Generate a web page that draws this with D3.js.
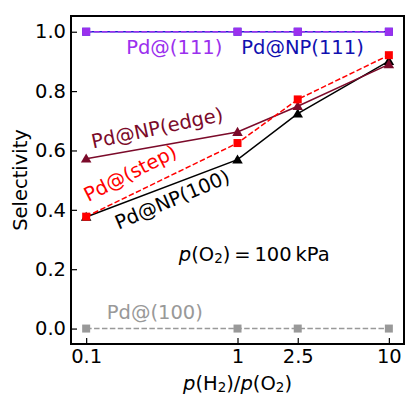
<!DOCTYPE html>
<html>
<head>
<meta charset="utf-8">
<script src="https://cdn.jsdelivr.net/npm/d3@7"></script>
<style>
    body { margin: 0; background: #fff; }
    text { font-family: "DejaVu Sans", sans-serif; }
</style>
</head>
<body>
<div id="chart_parent"></div>
<script>
const ratios = [0.1, 1, 2.5, 10];
const xTickLabels = ['0.1', '1', '2.5', '10'];
const yTicks = [0, 0.2, 0.4, 0.6, 0.8, 1.0];

const np111 = [1.0, 1.0, 1.0, 1.0];
const pd111 = [1.0, 1.0, 1.0, 1.0];
const np100 = [0.376, 0.569, 0.724, 0.901];
const npEdge = [0.572, 0.662, 0.749, 0.89];
const pdStep = [0.377, 0.625, 0.772, 0.921];
const pd100 = [0, 0, 0, 0];

const chartConfig = {
    margins: { top: 16, right: 1, bottom: 51, left: 71 },
    outerWidth: 405,
    outerHeight: 395,
    fontSize: 19.5,
    subSize: 13.5,
};

const series = [
    { name: 'Pd@NP(111)', values: np111, color: '#1f1fd0', dash: null, marker: 'square' },
    { name: 'Pd@(100)', values: pd100, color: '#999999', dash: '5.5,2.4', marker: 'square' },
    { name: 'Pd@NP(100)', values: np100, color: '#000000', dash: null, marker: 'triangle' },
    { name: 'Pd@NP(edge)', values: npEdge, color: '#7b0a2a', dash: null, marker: 'triangle' },
    { name: 'Pd@(step)', values: pdStep, color: '#ff0000', dash: '5.5,2.4', marker: 'square' },
    { name: 'Pd@(111)', values: pd111, color: '#9b30ee', dash: '5.5,2.4', marker: 'square' },
];

// label anchors in data units (centre of the text)
const labels = [
    { text: 'Pd@(111)', color: '#9b30ee', x: 0.382, y: 0.948, rot: 0 },
    { text: 'Pd@NP(111)', color: '#1010b0', x: 2.69, y: 0.948, rot: 0 },
    { text: 'Pd@NP(edge)', color: '#7b0a2a', x: 0.295, y: 0.675, rot: -12 },
    { text: 'Pd@(step)', color: '#ff0000', x: 0.196, y: 0.523, rot: -27 },
    { text: 'Pd@NP(100)', color: '#000000', x: 0.371, y: 0.434, rot: -23 },
    { text: 'Pd@(100)', color: '#999999', x: 0.284, y: 0.053, rot: 0 },
];

const { margins, outerWidth, outerHeight, fontSize, subSize } = chartConfig;
const width = outerWidth - margins.left - margins.right;
const height = outerHeight - margins.top - margins.bottom;

const svg = d3.select('#chart_parent').append('svg')
    .attr('width', outerWidth)
    .attr('height', outerHeight);

const g = svg.append('g').attr('transform', `translate(${margins.left},${margins.top})`);

const xScale = d3.scaleLog().domain([0.0794, 12.59]).range([0, width]);
const yScale = d3.scaleLinear().domain([-0.052, 1.053]).range([height, 0]);

// axes, ticks inward
const xAxis = d3.axisBottom(xScale)
    .tickValues(ratios)
    .tickFormat((d, i) => xTickLabels[i])
    .tickSizeInner(-6)
    .tickSizeOuter(0)
    .tickPadding(5);

const yAxis = d3.axisLeft(yScale)
    .tickValues(yTicks)
    .tickFormat(d3.format('.1f'))
    .tickSizeInner(-6)
    .tickSizeOuter(0)
    .tickPadding(5);

const xAxisGroup = g.append('g').attr('transform', `translate(0,${height})`).call(xAxis);
const yAxisGroup = g.append('g').call(yAxis);

[xAxisGroup, yAxisGroup].forEach(ax => {
    ax.select('.domain').remove();
    ax.selectAll('.tick line').attr('stroke', '#000').attr('stroke-width', 1.2);
    ax.selectAll('.tick text').attr('font-size', fontSize).attr('fill', '#000')
        .style('font-family', '"DejaVu Sans", sans-serif');
});

// series
const line = d3.line()
    .x((d, i) => xScale(ratios[i]))
    .y(d => yScale(d));

const squareSym = d3.symbol().type(d3.symbolSquare).size(64);
const triSym = d3.symbol().type(d3.symbolTriangle).size(48);

series.forEach(s => {
    g.append('path')
        .datum(s.values)
        .attr('fill', 'none')
        .attr('stroke', s.color)
        .attr('stroke-width', 1.5)
        .attr('stroke-dasharray', s.dash)
        .attr('d', line);

    g.selectAll(null)
        .data(s.values)
        .enter()
        .append('path')
        .attr('d', s.marker === 'square' ? squareSym : triSym)
        .attr('transform', (d, i) => `translate(${xScale(ratios[i])},${yScale(d) + (s.marker === 'triangle' ? 0.8 : 0)})`)
        .attr('fill', s.color);
});

// series labels
labels.forEach(l => {
    g.append('text')
        .attr('transform', `translate(${xScale(l.x)},${yScale(l.y)}) rotate(${l.rot})`)
        .attr('text-anchor', 'middle')
        .attr('dominant-baseline', 'central')
        .attr('font-size', fontSize)
        .attr('fill', l.color)
        .text(l.text);
});

// p(O2) = 100 kPa
const note = g.append('text')
    .attr('x', xScale(1.29))
    .attr('y', yScale(0.252))
    .attr('text-anchor', 'middle')
    .attr('dominant-baseline', 'central')
    .attr('font-size', fontSize)
    .attr('fill', '#000');
note.append('tspan').attr('font-style', 'italic').text('p');
note.append('tspan').text('(O');
note.append('tspan').attr('font-size', subSize).attr('dy', 4).text('2');
note.append('tspan').attr('dy', -4).text(')\u2009=\u2009100\u2009kPa');

// frame
g.append('rect')
    .attr('width', width)
    .attr('height', height)
    .attr('fill', 'none')
    .attr('stroke', '#000')
    .attr('stroke-width', 2);

// axis labels
const xLabel = svg.append('text')
    .attr('x', margins.left + xScale(1))
    .attr('y', 383)
    .attr('text-anchor', 'middle')
    .attr('dominant-baseline', 'central')
    .attr('font-size', fontSize)
    .attr('fill', '#000');
xLabel.append('tspan').attr('font-style', 'italic').text('p');
xLabel.append('tspan').text('(H');
xLabel.append('tspan').attr('font-size', subSize).attr('dy', 4).text('2');
xLabel.append('tspan').attr('dy', -4).text(')/');
xLabel.append('tspan').attr('font-style', 'italic').text('p');
xLabel.append('tspan').text('(O');
xLabel.append('tspan').attr('font-size', subSize).attr('dy', 4).text('2');
xLabel.append('tspan').attr('dy', -4).text(')');

svg.append('text')
    .attr('transform', `translate(20,${margins.top + height / 2}) rotate(-90)`)
    .attr('text-anchor', 'middle')
    .attr('dominant-baseline', 'central')
    .attr('font-size', fontSize)
    .attr('fill', '#000')
    .text('Selectivity');
</script>
</body>
</html>
